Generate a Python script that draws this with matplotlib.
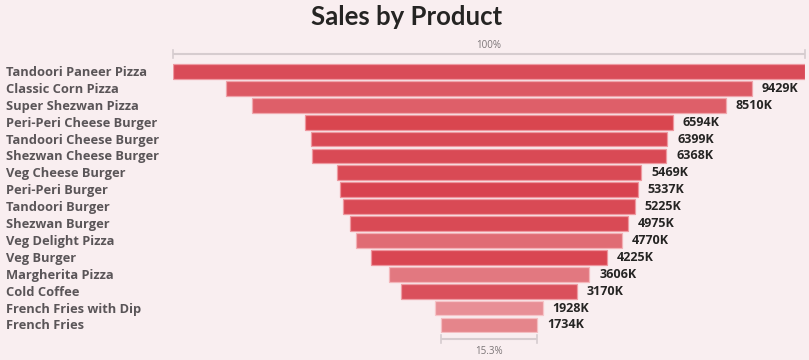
import matplotlib
matplotlib.use("Agg")
import matplotlib.pyplot as plt

products = ["Tandoori Paneer Pizza", "Classic Corn Pizza", "Super Shezwan Pizza",
            "Peri-Peri Cheese Burger", "Tandoori Cheese Burger", "Shezwan Cheese Burger",
            "Veg Cheese Burger", "Peri-Peri Burger", "Tandoori Burger", "Shezwan Burger",
            "Veg Delight Pizza", "Veg Burger", "Margherita Pizza", "Cold Coffee",
            "French Fries with Dip", "French Fries"]
sales_k = [11340, 9429, 8510, 6594, 6399, 6368, 5469, 5337, 5225, 4975,
           4770, 4225, 3606, 3170, 1928, 1734]
colors = ["#D94B58", "#DC5964", "#DE5F69", "#D9464F", "#D94A55", "#D94A55",
          "#D94A55", "#D8434F", "#D94A55", "#D94A55", "#E06C74", "#D94652",
          "#E27880", "#DA505C", "#E88F96", "#E5858B"]
edge_colors = ["#EE9AA2", "#EFA3AA", "#F0A8AE", "#EE959D", "#EE99A0", "#EE99A0",
               "#EE99A0", "#EE939B", "#EE99A0", "#EE99A0", "#F2B0B5", "#EE959D",
               "#F3B6BA", "#EE9DA4", "#F6C4C8", "#F4BEC2"]

BG = "#F9EEF0"
W, H = 809, 360
fig = plt.figure(figsize=(W / 100, H / 100), dpi=100, facecolor=BG)

n = len(products)
pitch = 16.9
top_px = 63.0
x0_px, x1_px = 173, 805
ax = fig.add_axes([x0_px / W, 1 - (top_px + n * pitch) / H, (x1_px - x0_px) / W, n * pitch / H])
ax.set_facecolor("none")
vmax = max(sales_k)
ax.set_xlim(-vmax / 2, vmax / 2)
ax.set_ylim(n - 0.5, -0.5)
ax.axis("off")

for i, (v, c, ec) in enumerate(zip(sales_k, colors, edge_colors)):
    ax.barh(i, v, left=-v / 2, height=0.88, color=c, edgecolor=ec, linewidth=0.9)
    if i > 0:
        ax.annotate(f"{v}K", xy=(v / 2, i), xytext=(7, 0), textcoords="offset points",
                    ha="left", va="center", fontsize=9, fontweight="bold",
                    color="#252423", family="Open Sans")
    fig.text(6 / W, 1 - (top_px + (i + 0.5) * pitch + 1) / H, products[i],
             ha="left", va="center", fontsize=9.3, fontweight="bold",
             color="#5A5558", family="Open Sans")

# percent guides
line_c = "#D6CCCF"
y_top = -0.5 - 9 / pitch
ax.plot([-vmax / 2, vmax / 2], [y_top, y_top], color=line_c, lw=1.5, clip_on=False, solid_capstyle="butt")
for xx in (-vmax / 2, vmax / 2):
    ax.plot([xx, xx], [y_top - 0.22, y_top + 0.22], color=line_c, lw=1.2, clip_on=False)
ax.text(0, -0.5 - 18 / pitch, "100%", ha="center", va="center", fontsize=7, color="#7A7476",
        family="Open Sans")

last = sales_k[-1]
y_bot = n - 0.5 + 5.5 / pitch
ax.plot([-last / 2, last / 2], [y_bot, y_bot], color=line_c, lw=1.5, clip_on=False, solid_capstyle="butt")
for xx in (-last / 2, last / 2):
    ax.plot([xx, xx], [y_bot - 0.22, y_bot + 0.22], color=line_c, lw=1.2, clip_on=False)
ax.text(0, n - 0.5 + 18.5 / pitch, f"{last / vmax * 100:.1f}%", ha="center", va="center",
        fontsize=7, color="#7A7476", family="Open Sans")

fig.text(407 / W, 1 - 17 / H, "Sales by Product", ha="center", va="center",
         fontsize=18.5, fontweight="bold", color="#252423", family="Lato")

fig.savefig("out.png", dpi=100, facecolor=BG)
